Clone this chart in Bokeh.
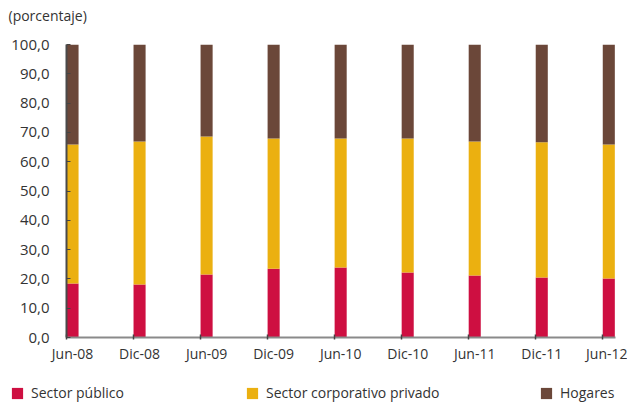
from bokeh.plotting import figure
from bokeh.models import FixedTicker, Legend, LegendItem, Range1d, Label
from bokeh.layouts import column, row
from bokeh.embed import file_html
from bokeh.resources import INLINE

categories = ["Jun-08", "Dic-08", "Jun-09", "Dic-09", "Jun-10", "Dic-10", "Jun-11", "Dic-11", "Jun-12"]
sector_publico = [18.4, 18.1, 21.5, 23.5, 23.9, 22.2, 21.2, 20.5, 20.1]
sector_corporativo = [47.5, 48.8, 47.1, 44.4, 44.0, 45.7, 45.7, 46.1, 45.8]
hogares = [34.1, 33.1, 31.4, 32.1, 32.1, 32.1, 33.1, 33.4, 34.1]
series_names = ["Sector público", "Sector corporativo privado", "Hogares"]
colors = ["#CE0F41", "#EBB010", "#6B4739"]
y_ticks = [0, 10, 20, 30, 40, 50, 60, 70, 80, 90, 100]
unit_label = "(porcentaje)"

FONT = "Open Sans"
TEXT_COLOR = "#333333"
BAR_W = 0.18
W = 627


def strip(h):
    s = figure(width=W, height=h, output_backend="svg", toolbar_location=None,
               x_range=Range1d(0, W), y_range=Range1d(0, h),
               x_axis_type=None, y_axis_type=None,
               min_border_left=0, min_border_right=0, min_border_top=0, min_border_bottom=0)
    s.outline_line_color = None
    s.xgrid.visible = False
    s.ygrid.visible = False
    return s


n = len(categories)
tick_pos = list(range(n))
centers = [i + BAR_W / 2 for i in tick_pos]

# unit label strip
TH = 30
p0 = strip(TH)
p0.add_layout(Label(x=8, y=TH - 15, text=unit_label, text_font=FONT, text_font_size="14px",
                    text_color=TEXT_COLOR, text_baseline="middle", text_align="left"))

# main chart
p = figure(width=W, height=340, output_backend="svg", toolbar_location=None,
           x_range=Range1d(0, 8.19), y_range=Range1d(0, 100),
           min_border_left=66, min_border_right=12, min_border_top=14, min_border_bottom=33)
p.title.visible = False

source = {"x": centers, "publico": sector_publico, "corporativo": sector_corporativo, "hogares": hogares}
renderers = p.vbar_stack(["publico", "corporativo", "hogares"], x="x", width=BAR_W, source=source,
                         color=colors, line_color=None)

p.xgrid.visible = False
p.ygrid.visible = False
p.outline_line_color = None

xa = p.xaxis[0]
xa.ticker = FixedTicker(ticks=centers, minor_ticks=tick_pos)
xa.major_label_overrides = {c: lab for c, lab in zip(centers, categories)}
xa.major_tick_line_color = None
xa.major_tick_in = 0
xa.major_tick_out = 0
xa.minor_tick_line_color = "#444444"
xa.minor_tick_line_width = 1.5
xa.minor_tick_in = 3
xa.minor_tick_out = 2
xa.axis_line_color = "#8a8a8a"
xa.axis_line_width = 2
xa.major_label_text_font = FONT
xa.major_label_text_font_size = "14px"
xa.major_label_text_color = TEXT_COLOR
xa.major_label_standoff = 4

ya = p.yaxis[0]
ya.ticker = FixedTicker(ticks=y_ticks)
ya.major_label_overrides = {t: f"{t:.1f}".replace(".", ",") for t in y_ticks}
ya.minor_tick_line_color = None
ya.major_tick_in = 4
ya.major_tick_out = 0
ya.major_tick_line_color = "#444444"
ya.axis_line_color = "#4a4a4a"
ya.axis_line_width = 2
ya.major_label_text_font = FONT
ya.major_label_text_font_size = "15px"
ya.major_label_text_color = TEXT_COLOR
ya.major_label_standoff = 17

# legend strip (swatches come from off-screen dummy renderers)
p2 = strip(35)
legend_x = [10, 245, 539]
for name, c, lx in zip(series_names, colors, legend_x):
    r = p2.vbar(x=[-1000], top=[-1000], width=1, fill_color=c, line_color=None)
    lg = Legend(items=[LegendItem(label=name, renderers=[r])], location=(lx, 3),
                orientation="horizontal", padding=0, margin=0, spacing=0,
                glyph_width=14, glyph_height=14, label_height=14, label_standoff=7,
                label_text_font=FONT, label_text_font_size="14px", label_text_color=TEXT_COLOR,
                border_line_color=None, background_fill_alpha=0)
    p2.add_layout(lg, "center")

layout = column(row(p0), p, row(p2), spacing=0)
open("out.html", "w").write(file_html(layout, INLINE))
